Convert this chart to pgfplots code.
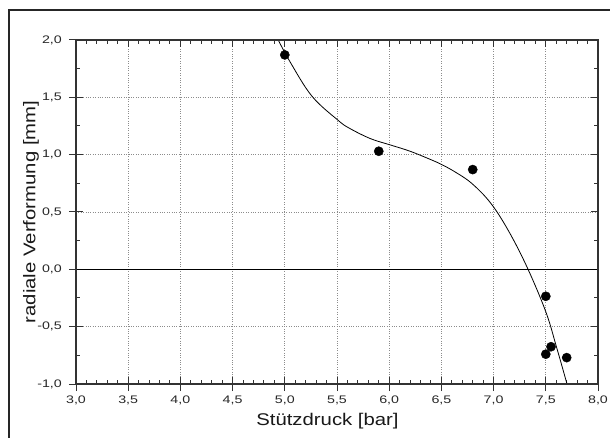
\documentclass[border=0pt]{standalone}
\usepackage{pgfplots}
\pgfplotsset{compat=1.18}
\usepackage{fontspec}
\setmainfont{Liberation Sans}
\begin{document}
\begin{tikzpicture}
\useasboundingbox (0,0) rectangle (610bp,438bp);
\draw[line width=1.2bp, black!85] (9bp,428bp) rectangle (700bp,-50bp);
\begin{axis}[
  at={(76bp,54bp)}, anchor=south west,
  scale only axis, width=522bp, height=344bp,
  xmin=3, xmax=8, ymin=-1, ymax=2,
  xtick={3,3.5,4,4.5,5,5.5,6,6.5,7,7.5,8},
  ytick={-1,-0.5,0,0.5,1,1.5,2},
  minor x tick num=4, minor y tick num=1,
  tick align=inside, xtick pos=both, ytick pos=both,
  major tick length=7bp, minor tick length=4bp,
  xticklabels={}, yticklabels={},
  grid=major,
  major grid style={dotted, black!45, line width=0.8bp},
  axis line style={line width=1.3bp, black!80},
  every tick/.style={line width=1bp, black!80},
]
\addplot[black, line width=1.1bp] coordinates {(3,0) (8,0)};
\addplot[smooth, tension=0.6, black, line width=0.8bp] coordinates {
(4.92,2.03) (5.05,1.81) (5.26,1.51) (5.51,1.30) (5.62,1.23) (5.82,1.14)
(6.01,1.085) (6.20,1.03) (6.39,0.96) (6.50,0.915) (6.63,0.85) (6.79,0.75)
(6.97,0.58) (7.14,0.34) (7.32,0.02) (7.50,-0.37) (7.60,-0.67) (7.70,-0.99) (7.71,-1.03)};
\addplot[only marks, mark=*, mark size=4.6bp, black] coordinates {
(5.0,1.87) (5.9,1.03) (6.8,0.87) (7.5,-0.235) (7.5,-0.74) (7.55,-0.675) (7.7,-0.77)};
\end{axis}
\begin{axis}[
  at={(76bp,54bp)}, anchor=south west,
  scale only axis, width=522bp, height=344bp,
  xmin=3, xmax=8, ymin=-1, ymax=2,
  xtick={3,3.5,4,4.5,5,5.5,6,6.5,7,7.5,8},
  ytick={-1,-0.5,0,0.5,1,1.5,2},
  minor tick num=0,
  tick align=outside, xtick pos=left, ytick pos=left,
  major tick length=7bp,
  axis line style={line width=1.3bp, black!80},
  every tick/.style={line width=1bp, black!80},
  /pgf/number format/.cd, use comma, fixed, fixed zerofill, precision=1, assume math mode=true,
  /pgfplots/.cd,
  ticklabel style={font=\fontsize{11}{13}\selectfont, text=black!85, xscale=1.3},
  xticklabel style={yshift=-1.5bp},
  yticklabel style={xshift=-2bp},
  xlabel={Stützdruck [bar]},
  ylabel={radiale Verformung [mm]},
  label style={font=\fontsize{17}{20}\selectfont, text=black!90},
  xlabel style={at={(axis description cs:0.4818,-0.1212)}, anchor=base, xscale=1.2},
  ylabel style={at={(axis description cs:-0.0862,0.5)}, anchor=center, xscale=1.2},
]
\end{axis}
\end{tikzpicture}
\end{document}
